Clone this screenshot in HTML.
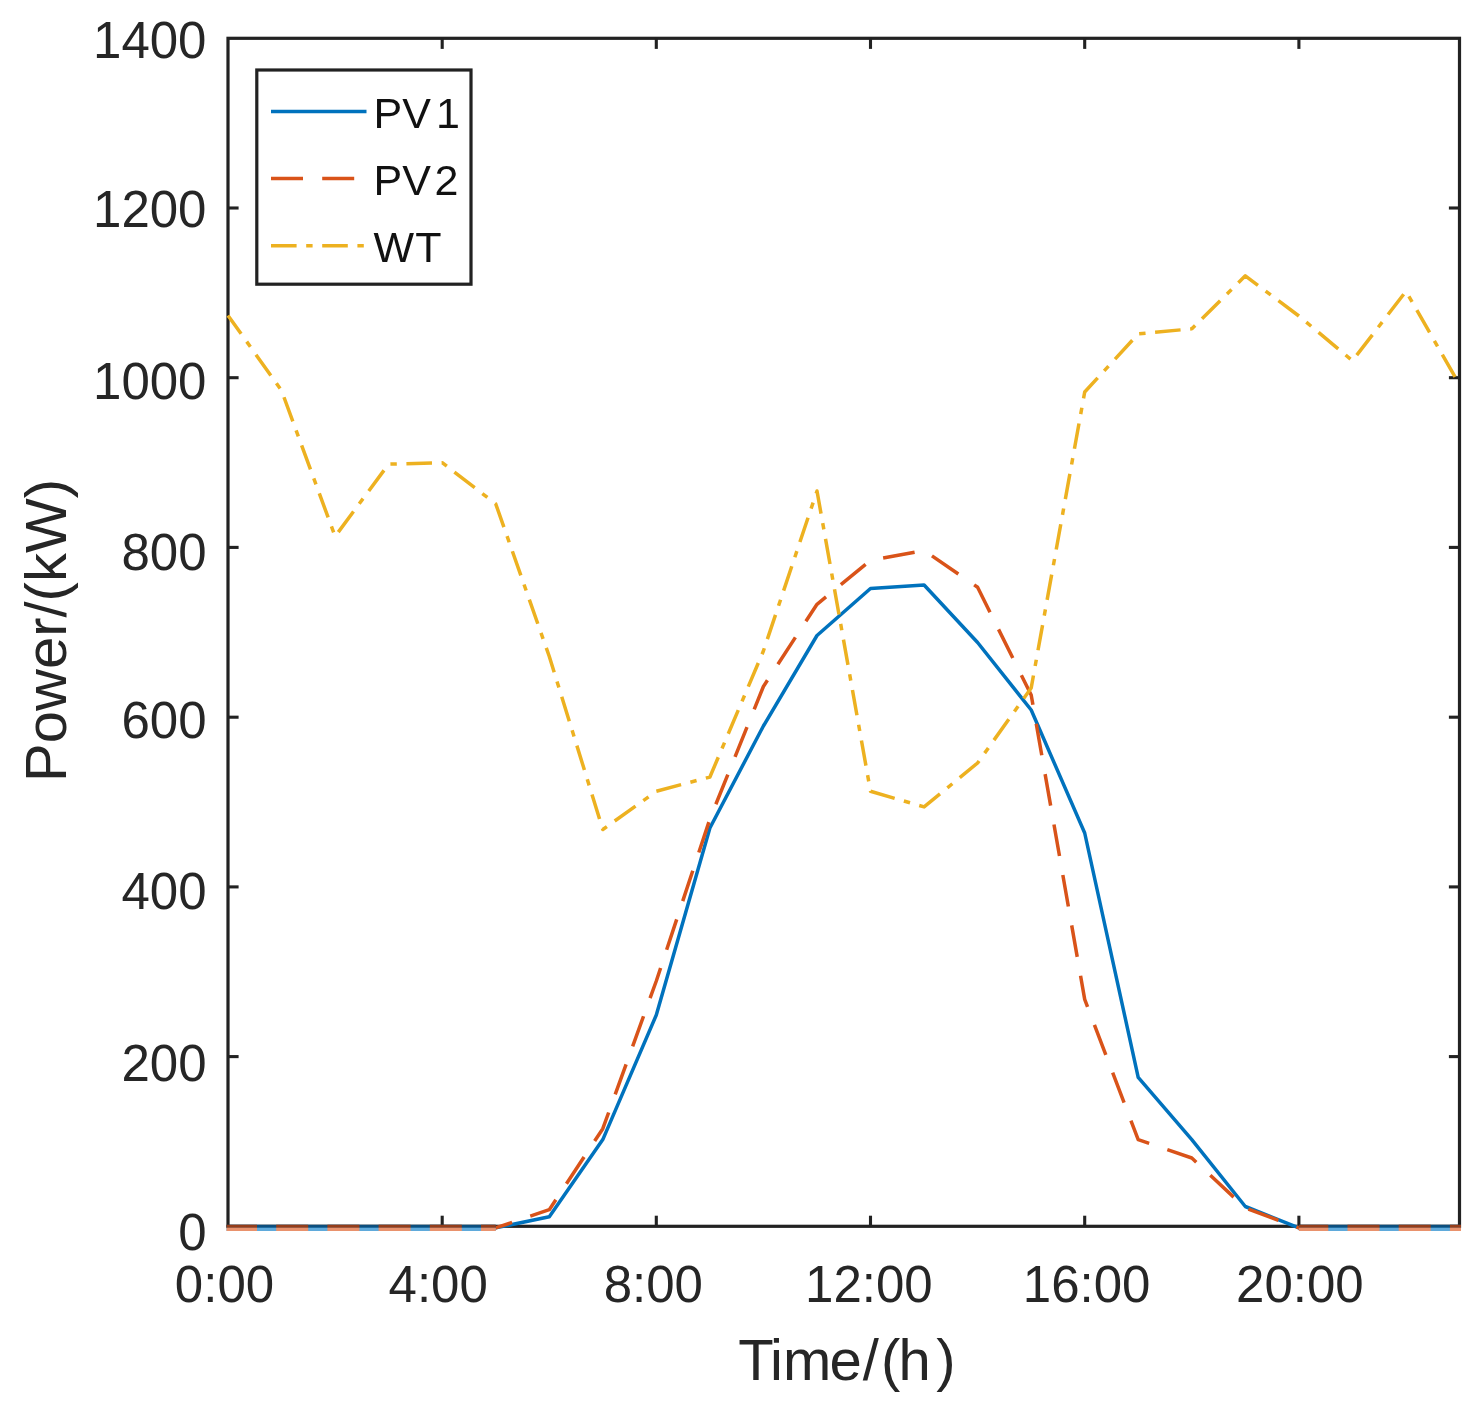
<!DOCTYPE html>
<html lang="en">
<head>
<meta charset="utf-8">
<title>Power curves</title>
<style>
html,body{margin:0;padding:0;background:#fff;}
body{width:1481px;height:1412px;overflow:hidden;}
svg{display:block;}
text{font-family:"Liberation Sans",Arial,Helvetica,sans-serif;fill:#262626;}
.tk{font-size:51px;}
.lg{font-size:43px;}
.al{font-size:58px;}
.lg text{fill:#111111;}
</style>
</head>
<body>
<svg width="1481" height="1412" viewBox="0 0 1481 1412">
<rect x="0" y="0" width="1481" height="1412" fill="#ffffff"/>
<g>

<g fill="none" stroke="#222222" stroke-width="3.2" stroke-linecap="square">
<rect x="228.0" y="38.3" width="1231.5" height="1188.0"/>
</g>
<g fill="none" stroke="#222222" stroke-width="3.1">
<line x1="442.2" y1="1226.3" x2="442.2" y2="1215.7"/>
<line x1="442.2" y1="38.3" x2="442.2" y2="48.9"/>
<line x1="656.3" y1="1226.3" x2="656.3" y2="1215.7"/>
<line x1="656.3" y1="38.3" x2="656.3" y2="48.9"/>
<line x1="870.5" y1="1226.3" x2="870.5" y2="1215.7"/>
<line x1="870.5" y1="38.3" x2="870.5" y2="48.9"/>
<line x1="1084.7" y1="1226.3" x2="1084.7" y2="1215.7"/>
<line x1="1084.7" y1="38.3" x2="1084.7" y2="48.9"/>
<line x1="1298.9" y1="1226.3" x2="1298.9" y2="1215.7"/>
<line x1="1298.9" y1="38.3" x2="1298.9" y2="48.9"/>
<line x1="228.0" y1="1056.6" x2="238.6" y2="1056.6"/>
<line x1="1459.5" y1="1056.6" x2="1448.9" y2="1056.6"/>
<line x1="228.0" y1="886.9" x2="238.6" y2="886.9"/>
<line x1="1459.5" y1="886.9" x2="1448.9" y2="886.9"/>
<line x1="228.0" y1="717.2" x2="238.6" y2="717.2"/>
<line x1="1459.5" y1="717.2" x2="1448.9" y2="717.2"/>
<line x1="228.0" y1="547.4" x2="238.6" y2="547.4"/>
<line x1="1459.5" y1="547.4" x2="1448.9" y2="547.4"/>
<line x1="228.0" y1="377.7" x2="238.6" y2="377.7"/>
<line x1="1459.5" y1="377.7" x2="1448.9" y2="377.7"/>
<line x1="228.0" y1="208.0" x2="238.6" y2="208.0"/>
<line x1="1459.5" y1="208.0" x2="1448.9" y2="208.0"/>
</g>
<g fill="none" stroke-width="3.5" stroke-linejoin="round">
<polyline stroke="#0072BD" points="228.0,1227.9 281.5,1227.9 335.1,1227.9 388.6,1227.9 442.2,1227.9 495.7,1227.9 549.3,1216.8 602.8,1139.6 656.3,1015.0 709.9,828.0 763.4,726.0 817.0,635.5 870.5,588.5 924.1,585.0 977.6,642.5 1031.2,710.0 1084.7,833.0 1138.2,1077.3 1191.8,1139.6 1245.3,1206.5 1298.9,1227.9 1352.4,1227.9 1406.0,1227.9 1459.5,1227.9"/>
<polyline stroke="#D95319" stroke-dasharray="32 19.2" stroke-dashoffset="3" points="228.0,1227.9 281.5,1227.9 335.1,1227.9 388.6,1227.9 442.2,1227.9 495.7,1227.9 549.3,1209.7 602.8,1128.7 656.3,981.0 709.9,819.0 763.4,686.5 817.0,604.3 870.5,560.4 924.1,550.5 977.6,587.3 1031.2,695.0 1084.7,999.4 1138.2,1139.6 1191.8,1158.0 1245.3,1208.0 1298.9,1227.9 1352.4,1227.9 1406.0,1227.9 1459.5,1227.9"/>
<polyline stroke="#EDB120" stroke-dasharray="25.6 9.6 6.4 9.6" stroke-dashoffset="3" points="228.0,315.4 281.5,390.5 335.1,536.4 388.6,464.1 442.2,462.7 495.7,503.8 549.3,656.5 602.8,829.5 656.3,791.3 709.9,777.0 763.4,651.0 817.0,491.0 870.5,791.3 924.1,806.9 977.6,763.0 1031.2,687.9 1084.7,392.0 1138.2,333.9 1191.8,328.8 1245.3,275.8 1298.9,316.0 1352.4,360.7 1406.0,291.3 1459.5,384.6"/>
</g>
<g fill="none" stroke-width="3.1">
<line x1="226.5" y1="1226.3" x2="495.7" y2="1226.3" stroke="#0C4F7E"/>
<line x1="226.5" y1="1229.4" x2="495.7" y2="1229.4" stroke="#5FAADB"/>
<line x1="226.5" y1="1226.3" x2="495.7" y2="1226.3" stroke="#943D1A" stroke-dasharray="32 19.2" stroke-dashoffset="1.5"/>
<line x1="226.5" y1="1229.4" x2="495.7" y2="1229.4" stroke="#E9926D" stroke-dasharray="32 19.2" stroke-dashoffset="1.5"/>
</g>
<g fill="none" stroke-width="3.1">
<line x1="1298.9" y1="1226.3" x2="1461.0" y2="1226.3" stroke="#0C4F7E"/>
<line x1="1298.9" y1="1229.4" x2="1461.0" y2="1229.4" stroke="#5FAADB"/>
<line x1="1298.9" y1="1226.3" x2="1461.0" y2="1226.3" stroke="#943D1A" stroke-dasharray="32 19.2" stroke-dashoffset="2.6"/>
<line x1="1298.9" y1="1229.4" x2="1461.0" y2="1229.4" stroke="#E9926D" stroke-dasharray="32 19.2" stroke-dashoffset="2.6"/>
</g>
<g class="tk" text-anchor="end">
<text x="206.5" y="1250.1">0</text>
<text x="206.5" y="1080.9">200</text>
<text x="206.5" y="908.9">400</text>
<text x="206.5" y="738.2">600</text>
<text x="206.5" y="569.9">800</text>
<text x="206.5" y="398.7">1000</text>
<text x="206.5" y="227.0">1200</text>
<text x="206.5" y="57.8">1400</text>
</g>
<g class="tk" text-anchor="middle">
<text x="224.5" y="1301.5">0:00</text>
<text x="438.2" y="1301.5">4:00</text>
<text x="653.3" y="1301.5">8:00</text>
<text x="868.9" y="1301.5">12:00</text>
<text x="1086.6" y="1301.5">16:00</text>
<text x="1299.9" y="1301.5">20:00</text>
</g>
<text class="al" x="738.2" y="1379.8" dx="0 -1.4 0 -1.7 0.9 2.2 -2.0 5.5">Time/(h)</text>
<text class="al" text-anchor="middle" transform="translate(65.7,630.5) rotate(-90)">Power/(kW)</text>
<rect x="256.8" y="70" width="214.2" height="214.2" fill="#ffffff" stroke="#222222" stroke-width="3.2"/>
<g fill="none" stroke-width="3.5">
<line x1="271" y1="111.4" x2="366.5" y2="111.4" stroke="#0072BD"/>
<line x1="271" y1="178.5" x2="366.5" y2="178.5" stroke="#D95319" stroke-dasharray="32 19.2"/>
<line x1="271" y1="245.8" x2="366.5" y2="245.8" stroke="#EDB120" stroke-dasharray="25.6 9.6 6.4 9.6"/>
</g>
<g class="lg">
<text x="373.5" y="128.1" dx="0 0 5">PV1</text>
<text x="373.5" y="195.4" dx="0 0 3.5">PV2</text>
<text x="373.6" y="262" dx="0 1">WT</text>
</g>
</g>
</svg>
</body>
</html>
